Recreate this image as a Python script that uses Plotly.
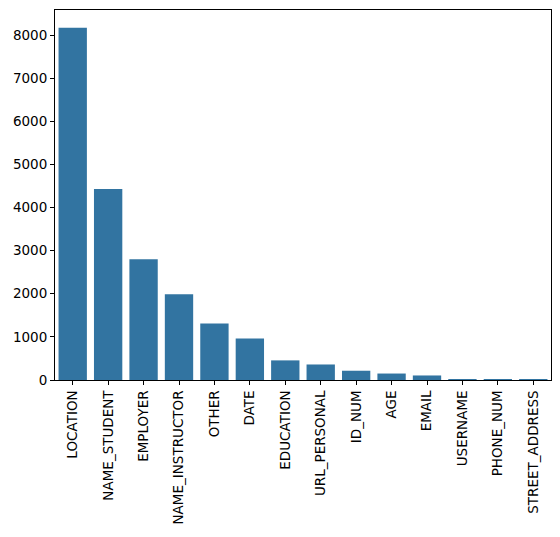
import plotly.graph_objects as go

# entity counts
labels = ['LOCATION', 'NAME_STUDENT', 'EMPLOYER', 'NAME_INSTRUCTOR', 'OTHER', 'DATE',
          'EDUCATION', 'URL_PERSONAL', 'ID_NUM', 'AGE', 'EMAIL', 'USERNAME',
          'PHONE_NUM', 'STREET_ADDRESS']
counts = [8170, 4430, 2800, 1990, 1310, 965, 455, 360, 215, 150, 105, 20, 15, 15]

trace = go.Bar(x=labels, y=counts, marker_color='#3274a1', marker_line_width=0, width=0.8)

# page body adds an 8px offset, so margins are shifted to compensate
layout = go.Layout(
    width=560, height=537,
    margin=dict(l=47, r=17, t=2, b=165),
    plot_bgcolor='white', paper_bgcolor='white',
    font=dict(family='DejaVu Sans', size=13.5, color='black'),
    showlegend=False,
    bargap=0.2,
    xaxis=dict(tickangle=-90, ticks='outside', ticklen=4, tickcolor='black',
               showline=True, linecolor='black', linewidth=1, mirror=True,
               showgrid=False, range=[-0.5, 13.5]),
    yaxis=dict(range=[0, 8580], tickvals=[0, 1000, 2000, 3000, 4000, 5000, 6000, 7000, 8000],
               ticks='outside', ticklen=4, tickcolor='black',
               showline=True, linecolor='black', linewidth=1, mirror=True,
               showgrid=False, zeroline=False),
)

fig = go.Figure(data=[trace], layout=layout)
fig.write_html('out.html')
